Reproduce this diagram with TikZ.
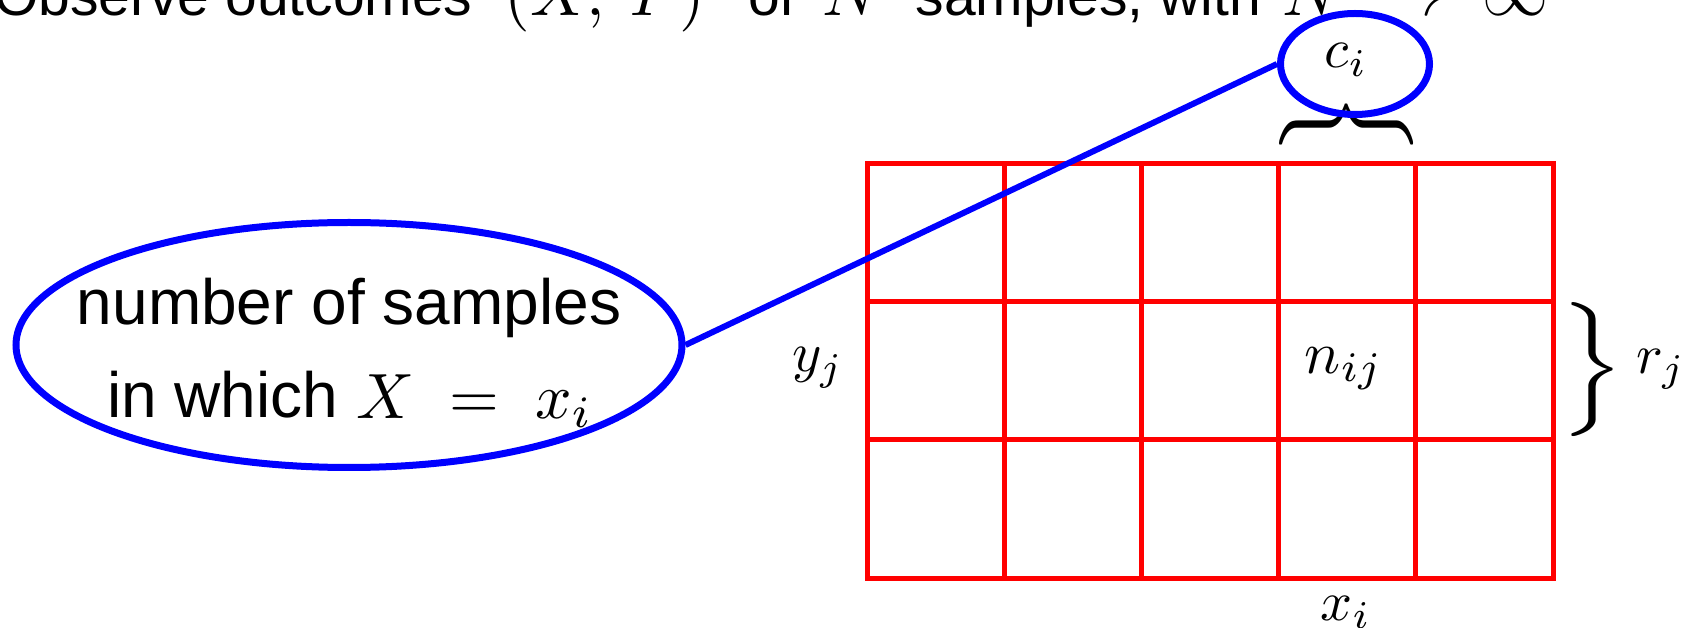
\documentclass[tikz,border=0pt]{standalone}
\usepackage{graphicx}
\usepackage{fontspec}
\setmainfont{Liberation Sans}
\usetikzlibrary{shapes.geometric}
\definecolor{gridred}{RGB}{255,0,0}
\definecolor{callblue}{RGB}{0,0,255}
\newcommand{\scmath}[2]{{\fontsize{10}{12}\selectfont\scalebox{#1}{$#2$}}}
\newcommand{\bracemark}{{\fontsize{10}{12}\selectfont\scalebox{9.6}[7.45]{$\Big\}$}}}
\tikzset{
  gridline/.style={draw=gridred, line width=5pt},
  callout/.style={draw=callblue, line width=7pt, ellipse, inner sep=0pt},
  bracenode/.style={inner sep=0pt},
  lbl/.style={inner sep=0pt, anchor=base},
  bodytext/.style={inner sep=0pt, anchor=base, font=\fontsize{64}{70}\selectfont},
}
\begin{document}
\begin{tikzpicture}[x=1pt,y=1pt]
\useasboundingbox (0,0) rectangle (1690,627);
% title (cropped at the top of the picture)
\node[inner sep=0pt, anchor=base west, font=\fontsize{57}{60}\selectfont] (title) at (-6,611)
  {Observe outcomes\hspace{16pt} \scmath{6.6}{(X,\,Y)}\hspace{27pt} of\hspace{11pt} \scmath{6.6}{N}\hspace{17pt} samples, with\hspace{6pt} \scmath{6.6}{N\;\to\;\infty}};
% grid
\draw[gridline] (867,49) rectangle (1553,463);
\foreach \x in {1004.2,1141.4,1278.6,1415.8} \draw[gridline] (\x,49) -- (\x,463);
\foreach \y in {187,325} \draw[gridline] (867,\y) -- (1553,\y);
% braces
\node[bracenode, rotate=90] (topbrace) at (1347,502) {\bracemark};
\node[bracenode] (rightbrace) at (1592,257) {\bracemark};
% labels
\node[lbl] (ci) at (1346,559) {\scmath{5.6}{c_i}};
\node[lbl] (yj) at (818,255) {\scmath{5.6}{y_j}};
\node[lbl] (nij) at (1344,254) {\scmath{6}{n_{ij}}};
\node[lbl] (rj) at (1661,254) {\scmath{5.6}{r_j}};
\node[lbl] (xi) at (1346,7) {\scmath{5.6}{x_i}};
% ellipses
\node[callout, minimum width=666pt, minimum height=245pt] (count) at (349,282) {};
\node[callout, minimum width=149pt, minimum height=101pt] (cell) at (1355,563) {};
\node[bodytext] (line1) at (349,302) {number of samples};
\node[bodytext] (line2) at (350,209) {in which \scmath{6.4}{X\;=\;x_i}};
% connector
\draw[draw=callblue, line width=6pt] (count.east) -- (cell.west);
\end{tikzpicture}
\end{document}
